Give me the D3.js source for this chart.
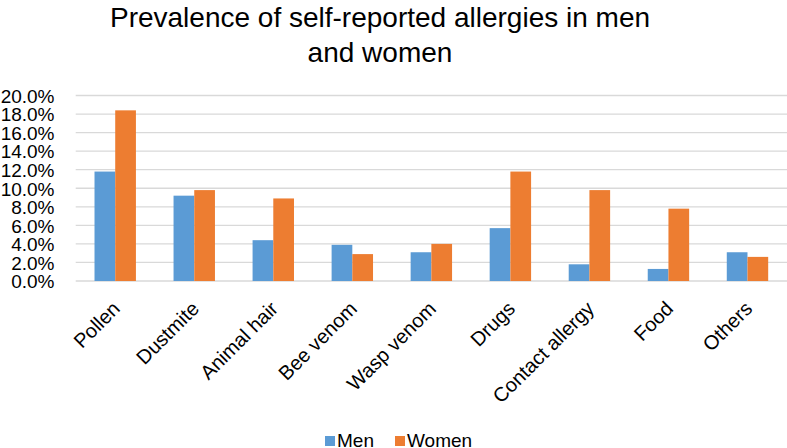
<!DOCTYPE html>
<html><head><meta charset="utf-8">
<script src="https://cdn.jsdelivr.net/npm/d3@7"></script>
<style>body{margin:0;background:#fff;} svg{display:block;font-family:"Liberation Sans",Arial,sans-serif;}</style>
</head><body>
<svg id="c" width="787" height="448"></svg>
<script>
const categories = ["Pollen","Dustmite","Animal hair","Bee venom","Wasp venom","Drugs","Contact allergy","Food","Others"];
const series = ["Men","Women"];
const men =   [11.8, 9.2, 4.4, 3.9, 3.1, 5.7, 1.8, 1.3, 3.1];
const women = [18.4, 9.8, 8.9, 2.9, 4.0, 11.8, 9.8, 7.8, 2.6];
const yTicks = [0,2,4,6,8,10,12,14,16,18,20];
const colors = ["#5b9bd5","#ed7d31"];
const titleLines = ["Prevalence of self-reported allergies in men","and women"];

const svg = d3.select("#c");
const pL = 75.7, pR = 787, pT = 95.5, pB = 281;
const x = d3.scaleBand().domain(categories).range([pL,pR]).paddingInner(0.476).paddingOuter(0.238);
const xs = d3.scaleBand().domain(series).range([0,x.bandwidth()]);
const y = d3.scaleLinear().domain([0,20]).range([pB,pT]);

svg.append("g").selectAll("line").data(yTicks).join("line")
  .attr("x1",pL).attr("x2",pR).attr("y1",d=>y(d)).attr("y2",d=>y(d))
  .attr("stroke","#d9d9d9").attr("stroke-width",1.3);

const data = categories.map((c,i)=>({c, vals:[men[i],women[i]]}));
svg.append("g").selectAll("g").data(data).join("g")
  .attr("transform",d=>`translate(${x(d.c)},0)`)
  .selectAll("rect").data(d=>d.vals.map((v,j)=>({s:series[j],v,j}))).join("rect")
  .attr("x",d=>xs(d.s)).attr("width",xs.bandwidth())
  .attr("y",d=>y(d.v)).attr("height",d=>y(0)-y(d.v))
  .attr("fill",d=>colors[d.j]);

// y axis labels
const yAxis = d3.axisLeft(y).tickValues(yTicks).tickSize(0).tickPadding(0).tickFormat(d=>d.toFixed(1)+"%");
const ga = svg.append("g").attr("transform","translate(54.5,0)").call(yAxis);
ga.select(".domain").remove();
ga.selectAll("text").attr("font-size",19).attr("fill","#000").attr("font-family","Liberation Sans, Arial, sans-serif").attr("dy","0.36em");

// x axis labels
const xAxis = d3.axisBottom(x).tickSize(0).tickPadding(0);
const gx = svg.append("g").attr("transform",`translate(0,${pB})`).call(xAxis);
gx.select(".domain").remove();
gx.selectAll("text").attr("font-size",20).attr("fill","#000").attr("font-family","Liberation Sans, Arial, sans-serif")
  .attr("text-anchor","end").attr("dy",null).attr("y",0)
  .attr("transform","translate(6,29) rotate(-45)");

// title
svg.append("g").selectAll("text").data(titleLines).join("text")
  .attr("x",380).attr("y",(d,i)=>27+i*35).attr("text-anchor","middle")
  .attr("font-size",28).attr("fill","#000").text(d=>d);

// legend
const lg = svg.append("g");
const items = [{s:"Men",x:325},{s:"Women",x:395}];
items.forEach((it,i)=>{
  lg.append("rect").attr("x",it.x).attr("y",436).attr("width",10).attr("height",10).attr("fill",colors[i]);
  lg.append("text").attr("x",it.x+12).attr("y",447).attr("font-size",19).attr("fill","#000").text(it.s);
});
</script>
</body></html>
